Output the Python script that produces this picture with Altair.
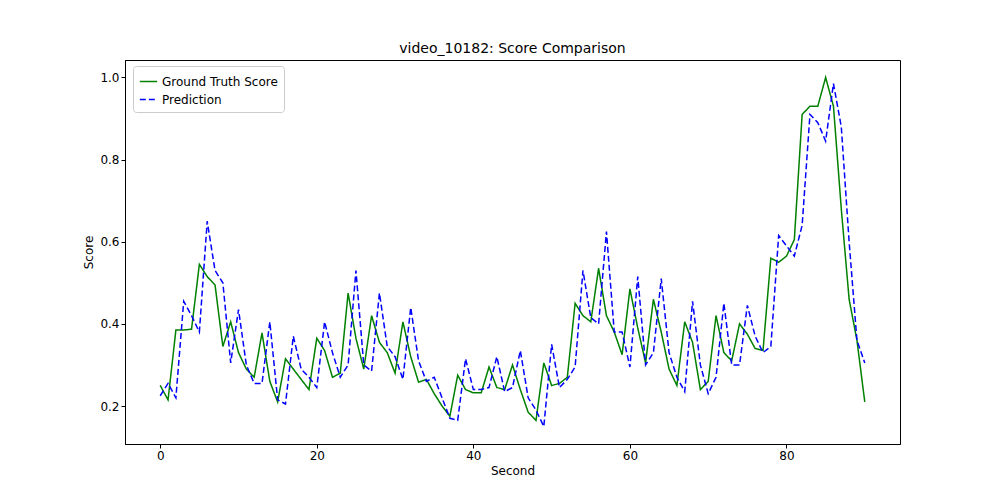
import altair as alt
import pandas as pd

seconds = list(range(91))
ground_truth = [0.25, 0.215, 0.385, 0.385, 0.387, 0.545, 0.515, 0.495, 0.345, 0.405,
                0.33, 0.29, 0.27, 0.378, 0.26, 0.21, 0.315, 0.29, 0.265, 0.24,
                0.365, 0.335, 0.27, 0.28, 0.475, 0.365, 0.29, 0.42, 0.355, 0.33,
                0.28, 0.405, 0.32, 0.258, 0.265, 0.23, 0.2, 0.175, 0.275, 0.24,
                0.232, 0.232, 0.295, 0.245, 0.24, 0.3, 0.24, 0.185, 0.165, 0.305,
                0.25, 0.255, 0.27, 0.45, 0.42, 0.405, 0.535, 0.42, 0.38, 0.325,
                0.485, 0.39, 0.305, 0.46, 0.38, 0.29, 0.25, 0.405, 0.355, 0.24,
                0.26, 0.42, 0.33, 0.31, 0.4, 0.375, 0.34, 0.335, 0.56, 0.55,
                0.565, 0.605, 0.91, 0.93, 0.93, 1.0, 0.93, 0.68, 0.46, 0.36, 0.21]
prediction = [0.225, 0.255, 0.22, 0.455, 0.42, 0.38, 0.65, 0.53, 0.5, 0.305,
              0.435, 0.3, 0.255, 0.255, 0.405, 0.215, 0.205, 0.37, 0.29, 0.27,
              0.245, 0.405, 0.33, 0.27, 0.3, 0.53, 0.3, 0.285, 0.475, 0.345,
              0.32, 0.265, 0.44, 0.31, 0.26, 0.27, 0.22, 0.17, 0.165, 0.315,
              0.24, 0.24, 0.245, 0.32, 0.235, 0.245, 0.335, 0.22, 0.19, 0.15,
              0.35, 0.245, 0.265, 0.295, 0.53, 0.415, 0.4, 0.625, 0.38, 0.38,
              0.295, 0.515, 0.3, 0.33, 0.51, 0.33, 0.27, 0.235, 0.455, 0.3,
              0.23, 0.27, 0.45, 0.3, 0.3, 0.445, 0.37, 0.33, 0.345, 0.615,
              0.59, 0.565, 0.64, 0.91, 0.89, 0.845, 0.985, 0.88, 0.6, 0.36, 0.305]

series_names = ["Ground Truth Score", "Prediction"]

df = pd.concat([
    pd.DataFrame({"Second": seconds, "Score": ground_truth, "series": series_names[0]}),
    pd.DataFrame({"Second": seconds, "Score": prediction, "series": series_names[1]}),
])

chart = alt.Chart(df).mark_line(strokeWidth=1.5, clip=True).encode(
    x=alt.X("Second:Q", scale=alt.Scale(domain=[-4.5, 94.5], nice=False, zero=False),
            axis=alt.Axis(values=[0, 20, 40, 60, 80], grid=False, tickSize=4,
                          labelFontSize=12, titleFontSize=12, titleFontWeight="normal")),
    y=alt.Y("Score:Q", scale=alt.Scale(domain=[0.1075, 1.0425], nice=False, zero=False),
            axis=alt.Axis(values=[0.2, 0.4, 0.6, 0.8, 1.0], format=".1f", grid=False, tickSize=4,
                          labelFontSize=12, titleFontSize=12, titleFontWeight="normal")),
    color=alt.Color("series:N", scale=alt.Scale(domain=series_names, range=["green", "blue"]),
                    legend=alt.Legend(title=None, orient="none", legendX=8, legendY=6,
                                      symbolType="stroke", symbolSize=300, labelFontSize=12,
                                      strokeColor="#cccccc", fillColor="white", padding=6,
                                      cornerRadius=3)),
    strokeDash=alt.StrokeDash("series:N", scale=alt.Scale(domain=series_names, range=[[1, 0], [6, 3]]),
                              legend=None),
).properties(
    width=775, height=384,
    title=alt.TitleParams("video_10182: Score Comparison", fontSize=14, fontWeight="normal"),
    autosize=alt.AutoSizeParams(type="none"),
    padding={"left": 117, "top": 52, "right": 92, "bottom": 48},
).configure(font="DejaVu Sans").configure_axis(
    domainColor="black", tickColor="black", labelColor="black", titleColor="black"
).configure_view(stroke="black", strokeWidth=1)

chart.save("out.html", embed_options={"renderer": "svg", "actions": False})
